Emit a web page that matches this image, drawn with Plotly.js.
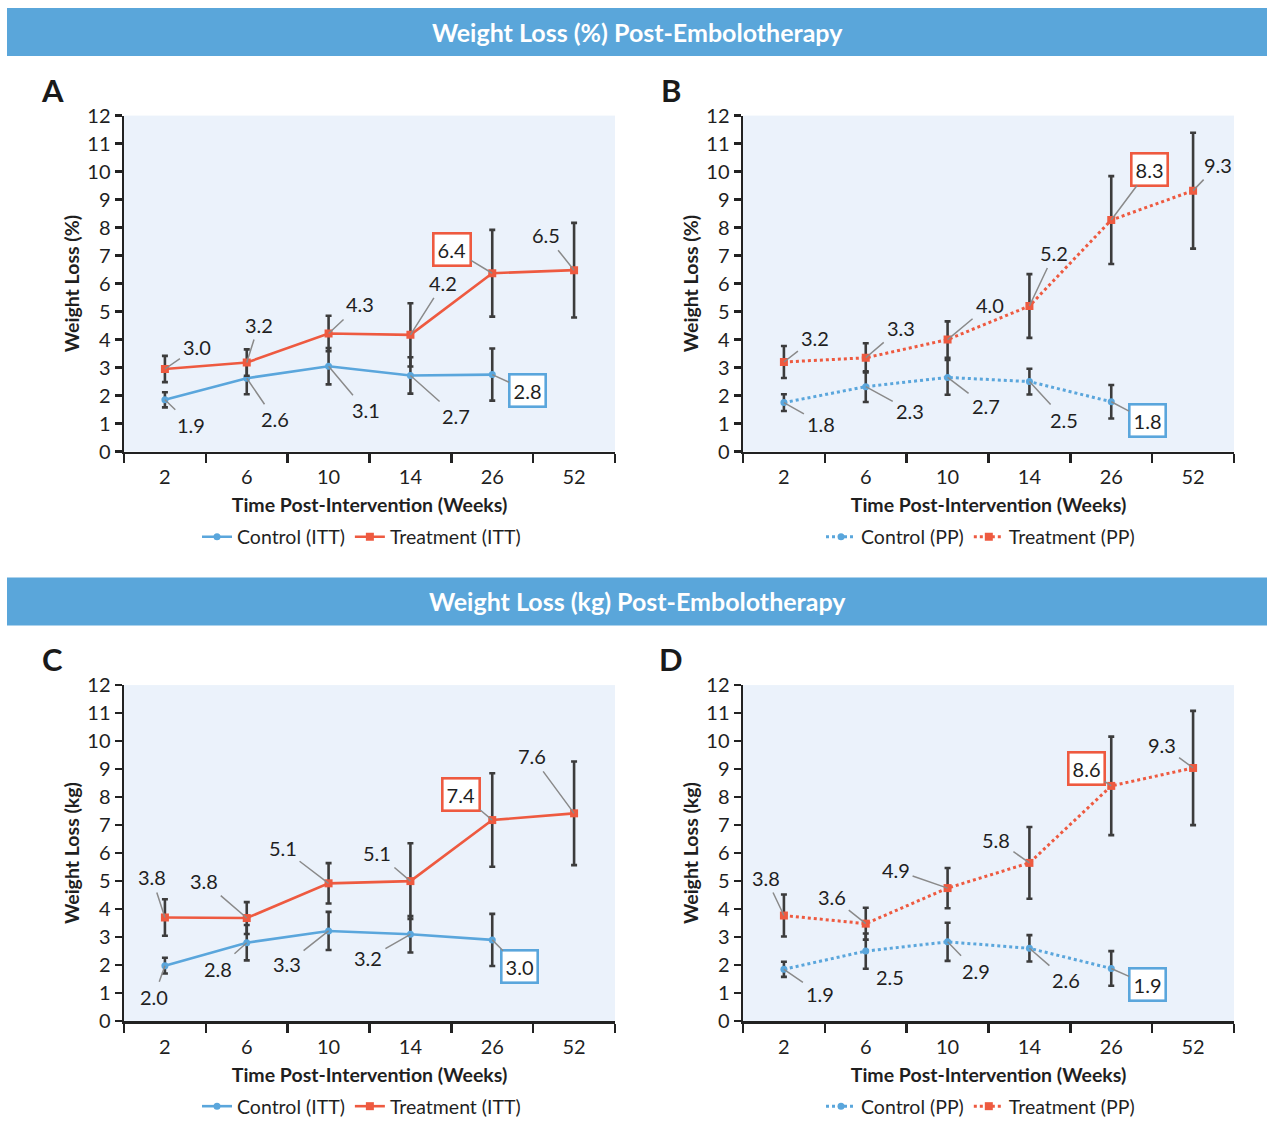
<!DOCTYPE html>
<html>
<head>
<meta charset="utf-8">
<script src="https://cdn.plot.ly/plotly-3.0.1.min.js"></script>
<style>html,body{margin:0;padding:0;background:#fff;}#chart{width:1267px;height:1126px;}</style>
</head>
<body>
<div id="chart"></div>
<script>
// ---------------- DATA ----------------
const weeks = ['2', '6', '10', '14', '26', '52'];

// Panel A: Weight loss (%) ITT
const aControl = [1.85, 2.62, 3.05, 2.72, 2.75];
const aControlErr = [0.27, 0.57, 0.65, 0.65, 0.93];
const aControlLabels = ['1.9', '2.6', '3.1', '2.7', '2.8'];
const aTreatment = [2.95, 3.18, 4.22, 4.17, 6.37, 6.48];
const aTreatmentErr = [0.47, 0.47, 0.63, 1.13, 1.55, 1.69];
const aTreatmentLabels = ['3.0', '3.2', '4.3', '4.2', '6.4', '6.5'];

// Panel B: Weight loss (%) PP
const bControl = [1.75, 2.32, 2.65, 2.5, 1.78];
const bControlErr = [0.3, 0.55, 0.62, 0.46, 0.6];
const bControlLabels = ['1.8', '2.3', '2.7', '2.5', '1.8'];
const bTreatment = [3.2, 3.35, 4.0, 5.2, 8.27, 9.32];
const bTreatmentErr = [0.57, 0.52, 0.65, 1.14, 1.57, 2.07];
const bTreatmentLabels = ['3.2', '3.3', '4.0', '5.2', '8.3', '9.3'];

// Panel C: Weight loss (kg) ITT
const cControl = [1.98, 2.8, 3.22, 3.1, 2.9];
const cControlErr = [0.28, 0.63, 0.68, 0.65, 0.93];
const cControlLabels = ['2.0', '2.8', '3.3', '3.2', '3.0'];
const cTreatment = [3.7, 3.68, 4.92, 5.0, 7.18, 7.42];
const cTreatmentErr = [0.65, 0.57, 0.72, 1.35, 1.67, 1.85];
const cTreatmentLabels = ['3.8', '3.8', '5.1', '5.1', '7.4', '7.6'];

// Panel D: Weight loss (kg) PP
const dControl = [1.85, 2.5, 2.83, 2.6, 1.88];
const dControlErr = [0.27, 0.63, 0.68, 0.47, 0.62];
const dControlLabels = ['1.9', '2.5', '2.9', '2.6', '1.9'];
const dTreatment = [3.77, 3.48, 4.75, 5.65, 8.4, 9.04];
const dTreatmentErr = [0.75, 0.57, 0.72, 1.28, 1.76, 2.04];
const dTreatmentLabels = ['3.8', '3.6', '4.9', '5.8', '8.6', '9.3'];

const yTicks = [0, 1, 2, 3, 4, 5, 6, 7, 8, 9, 10, 11, 12];

// ---------------- LAYOUT / STYLE ----------------
const W = 1267, H = 1126;
const BLUE = '#5aa6dc', RED = '#ee5a40', BAR = '#3c3c3c', LEAD = '#8a8a8a';
const FONT = 'Lato, "Open Sans", sans-serif';

// label pixel offsets [dx, dy] (text centre relative to point)
const offA = {c: [[26, 25], [28, 41], [37, 44], [46, 41], [35, 16]],
              t: [[32, -22], [12, -38], [31, -29], [33, -52], [-40, -24], [-28, -35]]};
const offB = {c: [[37, 21], [44, 24], [38, 29], [35, 38], [36, 19]],
              t: [[31, -24], [35, -30], [42, -35], [25, -53], [38, -51], [25, -26]]};
const offC = {c: [[-11, 31], [-29, 26], [-42, 33], [-42, 24], [27, 27]],
              t: [[-13, -40], [-43, -37], [-46, -35], [-33, -28], [-31, -26], [-42, -57]]};
const offD = {c: [[36, 25], [24, 26], [28, 29], [37, 32], [36, 16]],
              t: [[-18, -38], [-34, -27], [-52, -18], [-33, -23], [-25, -17], [-31, -23]]};

const px = (x) => x / W;
const py = (y) => 1 - y / H;

const panels = [
  {key: '', ctrl: aControl, ctrlErr: aControlErr, ctrlLbl: aControlLabels,
   trt: aTreatment, trtErr: aTreatmentErr, trtLbl: aTreatmentLabels,
   dash: 'solid', names: ['Control (ITT)', 'Treatment (ITT)'], off: offA,
   xd: [124, 615], yd: [115.7, 452], ytitle: 'Weight Loss (%)', legend: 'legend', letter: 'A'},
  {key: '2', ctrl: bControl, ctrlErr: bControlErr, ctrlLbl: bControlLabels,
   trt: bTreatment, trtErr: bTreatmentErr, trtLbl: bTreatmentLabels,
   dash: 'dot', names: ['Control (PP)', 'Treatment (PP)'], off: offB,
   xd: [743, 1234], yd: [115.7, 452], ytitle: 'Weight Loss (%)', legend: 'legend2', letter: 'B'},
  {key: '3', ctrl: cControl, ctrlErr: cControlErr, ctrlLbl: cControlLabels,
   trt: cTreatment, trtErr: cTreatmentErr, trtLbl: cTreatmentLabels,
   dash: 'solid', names: ['Control (ITT)', 'Treatment (ITT)'], off: offC,
   xd: [124, 615], yd: [685.7, 1022], ytitle: 'Weight Loss (kg)', legend: 'legend3', letter: 'C'},
  {key: '4', ctrl: dControl, ctrlErr: dControlErr, ctrlLbl: dControlLabels,
   trt: dTreatment, trtErr: dTreatmentErr, trtLbl: dTreatmentLabels,
   dash: 'dot', names: ['Control (PP)', 'Treatment (PP)'], off: offD,
   xd: [743, 1234], yd: [685.7, 1022], ytitle: 'Weight Loss (kg)', legend: 'legend4', letter: 'D'}
];

const traces = [];
const annotations = [];
const shapes = [];
const layout = {
  width: W, height: H,
  margin: {l: 0, r: 0, t: 0, b: 0},
  paper_bgcolor: '#ffffff',
  plot_bgcolor: '#ebf2fb',
  font: {family: FONT, size: 19, color: '#1f1f1f'},
  showlegend: true
};

panels.forEach((p) => {
  const xa = 'x' + p.key, ya = 'y' + p.key;
  const errStyle = (arr) => ({type: 'data', array: arr, visible: true, color: BAR, thickness: 2.6, width: 3});
  traces.push({
    type: 'scatter', mode: 'lines+markers', x: weeks.slice(0, p.ctrl.length), y: p.ctrl,
    xaxis: xa, yaxis: ya, name: p.names[0], legend: p.legend,
    line: {color: BLUE, width: p.dash === 'dot' ? 3 : 2.6, dash: p.dash},
    marker: {symbol: 'circle', size: 7, color: BLUE},
    error_y: errStyle(p.ctrlErr), hoverinfo: 'skip'
  });
  traces.push({
    type: 'scatter', mode: 'lines+markers', x: weeks.slice(0, p.trt.length), y: p.trt,
    xaxis: xa, yaxis: ya, name: p.names[1], legend: p.legend,
    line: {color: RED, width: p.dash === 'dot' ? 3 : 2.6, dash: p.dash},
    marker: {symbol: 'square', size: 8, color: RED},
    error_y: errStyle(p.trtErr), hoverinfo: 'skip'
  });

  const axKey = p.key;
  layout['xaxis' + axKey] = {
    domain: [px(p.xd[0]), px(p.xd[1])], anchor: ya, type: 'category',
    categoryorder: 'array', categoryarray: weeks,
    range: [-0.5, 5.5], tickson: 'boundaries', ticks: 'outside', ticklen: 9, tickwidth: 2.5,
    tickcolor: '#222', showline: true, linecolor: '#222', linewidth: 2.5,
    showgrid: false, zeroline: false, fixedrange: true, ticklabelstandoff: 6,
    tickfont: {size: 20, color: '#1f1f1f'},
    title: {text: '<b>Time Post-Intervention (Weeks)</b>', font: {size: 19.5, color: '#1f1f1f'}, standoff: 12}
  };
  layout['yaxis' + axKey] = {
    domain: [py(p.yd[1]), py(p.yd[0])], anchor: xa, range: [0, 12],
    tickvals: yTicks, ticks: 'outside', ticklen: 7, tickwidth: 2.5, tickcolor: '#222',
    showline: true, linecolor: '#222', linewidth: 2.5, showgrid: false, zeroline: false,
    fixedrange: true, tickfont: {size: 20, color: '#1f1f1f'},
    title: {text: '<b>' + p.ytitle + '</b>', font: {size: 19.5, color: '#1f1f1f'}, standoff: 3}
  };
  const legCx = (p.xd[0] + p.xd[1]) / 2;
  layout[p.legend] = {
    orientation: 'h', x: px(legCx - 8), xanchor: 'center', y: py(p.yd[1] + 85), yanchor: 'middle',
    font: {size: 19.5, color: '#1f1f1f'}, bgcolor: 'rgba(0,0,0,0)', itemwidth: 30, tracegroupgap: 0
  };

  // panel letter
  annotations.push({xref: 'paper', yref: 'paper', x: px(p.xd[0] - 72), y: py(p.yd[0] - 26),
    xanchor: 'center', yanchor: 'middle', text: '<b>' + p.letter + '</b>', showarrow: false,
    font: {size: 31, color: '#1a1a1a', family: FONT}});

  const addLabels = (vals, lbls, offs, color) => {
    vals.forEach((v, i) => {
      const boxed = i === 4;
      annotations.push({
        xref: xa, yref: ya, x: i, y: v, text: lbls[i],
        showarrow: true, arrowhead: 0, arrowwidth: 1.5, arrowcolor: LEAD,
        ax: offs[i][0], ay: offs[i][1], standoff: 0, startstandoff: 0,
        font: {size: 20, color: '#1f1f1f'},
        bordercolor: boxed ? color : 'rgba(0,0,0,0)', borderwidth: boxed ? 2.6 : 0, borderpad: 3,
        bgcolor: boxed ? '#ffffff' : 'rgba(0,0,0,0)'
      });
    });
  };
  addLabels(p.ctrl, p.ctrlLbl, p.off.c, BLUE);
  addLabels(p.trt, p.trtLbl, p.off.t, RED);
});

// header banners
const banners = [
  {y0: 8, y1: 56, text: 'Weight Loss (%) Post-Embolotherapy'},
  {y0: 578, y1: 626, text: 'Weight Loss (kg) Post-Embolotherapy'}
];
banners.forEach((b) => {
  shapes.push({type: 'rect', xref: 'paper', yref: 'paper', x0: px(7), x1: 1, y0: py(b.y1), y1: py(b.y0),
    fillcolor: '#5aa6da', line: {width: 0}, layer: 'below'});
  annotations.push({xref: 'paper', yref: 'paper', x: px(637), y: py((b.y0 + b.y1) / 2),
    xanchor: 'center', yanchor: 'middle', showarrow: false,
    text: '<b>' + b.text + '</b>', font: {size: 25, color: '#ffffff', family: FONT}});
});

layout.annotations = annotations;
layout.shapes = shapes;

Plotly.newPlot('chart', traces, layout, {staticPlot: true, displayModeBar: false});
</script>
</body>
</html>
